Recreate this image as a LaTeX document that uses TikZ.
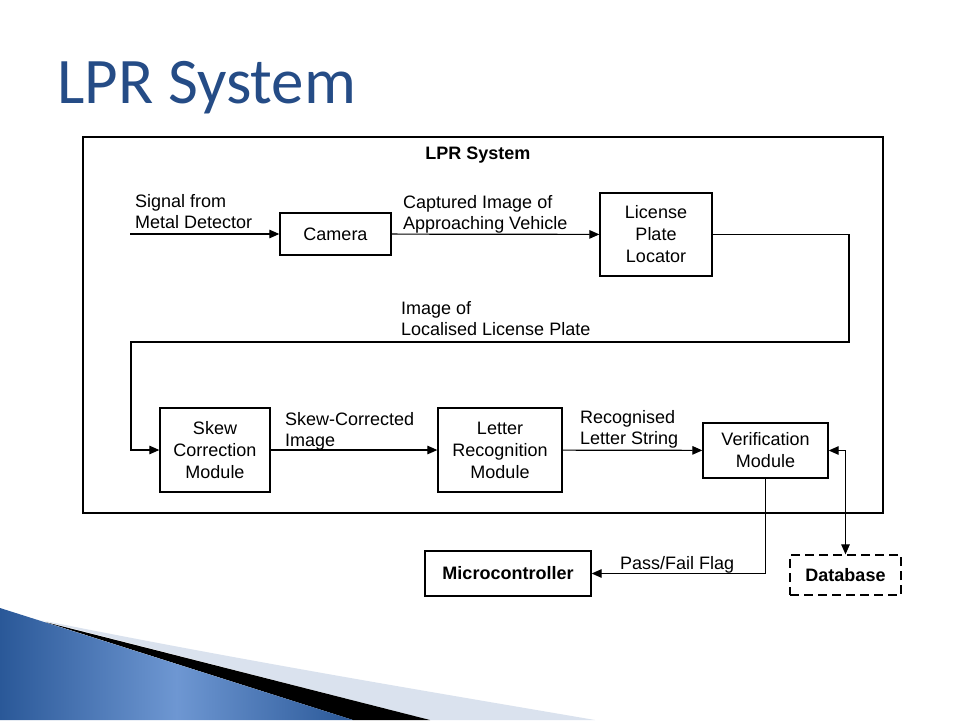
\documentclass[tikz,border=0pt]{standalone}
\usepackage{fontspec}
\setmainfont{Liberation Sans}
\newfontfamily\slidefont{Carlito}
\usetikzlibrary{arrows.meta}
\definecolor{slideblue}{HTML}{254C86}
\definecolor{bandlight}{HTML}{DAE2EE}
\definecolor{wedgedark}{HTML}{2A5898}
\definecolor{wedgelight}{HTML}{6E97D2}

\begin{document}
\begin{tikzpicture}[x=1pt,y=-1pt,
  block/.style={draw,line width=1.3pt,align=center,inner sep=0pt,font=\fontsize{18}{22}\selectfont},
  lbl/.style={align=left,anchor=base west,inner sep=0pt,font=\fontsize{18}{21}\selectfont},
  arr/.style={line width=1.2pt,-{Triangle[length=10pt,width=8.5pt]}}]
\useasboundingbox (0,0) rectangle (960,720);
\fill[white] (0,0) rectangle (960,720);

\fill[bandlight] (40,620) .. controls (250,662) and (420,690) .. (595,720) -- (430,720) -- cycle;
\fill[black] (45,622) -- (430,720) -- (353,720) -- cycle;
\shade[left color=wedgedark,right color=wedgedark,middle color=wedgelight] (0,608) -- (353,720) -- (0,720) -- cycle;

\node[anchor=base west,inner sep=0pt,text=slideblue,font=\slidefont\fontsize{65}{70}\selectfont] (slidetitle) at (57,103) {LPR System};

\draw[line width=1.3pt] (83,137) rectangle (883,513);
\node[font=\fontsize{18}{22}\selectfont\bfseries] (frametitle) at (478,155) {LPR System};

\node[block,minimum width=111pt,minimum height=42pt] (camera) at (335.5,234) {Camera};
\node[block,minimum width=112pt,minimum height=83pt] (locator) at (656,234.5) {License\\Plate\\Locator};
\node[block,minimum width=110pt,minimum height=84pt] (skew) at (215,450) {Skew\\Correction\\Module};
\node[block,minimum width=124pt,minimum height=84pt] (letter) at (500,450) {Letter\\Recognition\\Module};
\node[block,minimum width=125pt,minimum height=55pt] (verify) at (765.5,450.5) {Verification\\Module};
\node[block,minimum width=166pt,minimum height=45pt,font=\fontsize{18}{22}\selectfont\bfseries] (micro) at (508,573.5) {Microcontroller};
\node[block,dash pattern=on 9pt off 5pt,minimum width=111pt,minimum height=40pt,font=\fontsize{18}{22}\selectfont\bfseries] (dbase) at (845.5,575) {Database};

\node[lbl] (sigtext) at (135,228) {Signal from\\Metal Detector};
\node[lbl] (captext) at (403,229) {Captured Image of\\Approaching Vehicle};
\node[lbl] (platetext) at (401,335) {Image of\\Localised License Plate};
\node[lbl] (skewtext) at (285,446) {Skew-Corrected\\Image};
\node[lbl] (lettertext) at (580,444) {Recognised\\Letter String};
\node[lbl] (flagtext) at (620,569) {Pass/Fail Flag};

\coordinate (sigin) at (130,234);
\coordinate (bendR) at (849,342);
\coordinate (bendL) at (131,342);

\draw[arr] (sigin) -- (camera);
\draw[arr] (camera) -- (locator);
\draw[arr] (locator.east) -| (bendR) -- (bendL) |- (skew.west);
\draw[arr] (skew) -- (letter);
\draw[arr] (letter) -- (verify);
\draw[arr] (verify.south) |- (micro.east);
\draw[line width=1.2pt,{Triangle[length=10pt,width=8.5pt]}-{Triangle[length=10pt,width=8.5pt]}] (verify.east) -| (dbase.north);
\end{tikzpicture}
\end{document}
